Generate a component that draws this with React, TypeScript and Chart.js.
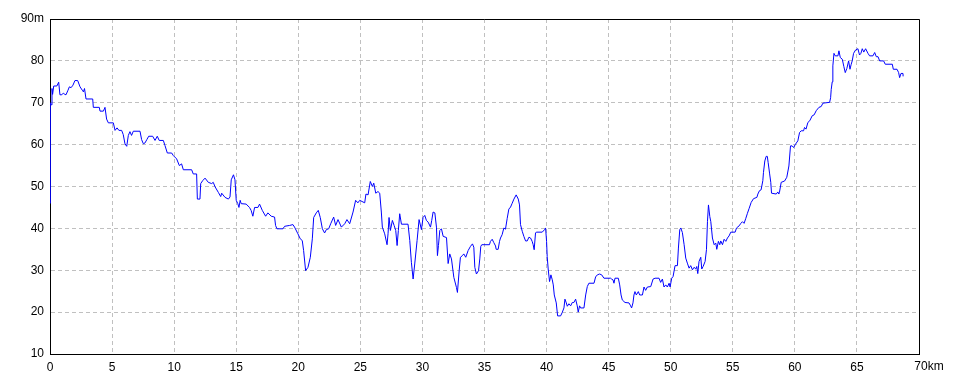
import React, { useEffect, useRef } from "react";
import { Chart, registerables } from "chart.js";

Chart.register(...registerables);

// Distance along the route (km)
const distanceKm = [
  0, 0.02, 0.04, 0.1, 0.16, 0.21, 0.3, 0.55, 0.7, 0.8,
  0.95, 1.07, 1.2, 1.29, 1.45, 1.56, 1.7, 1.85, 2.01, 2.23,
  2.42, 2.6, 2.69, 2.78, 2.9, 3.44, 3.49, 3.97, 4.03, 4.3,
  4.43, 4.56, 4.7, 5.1, 5.24, 5.4, 5.55, 5.77, 5.9, 6.04,
  6.18, 6.31, 6.44, 6.57, 6.71, 7.25, 7.38, 7.52, 7.65, 7.8,
  7.95, 8.27, 8.46, 8.64, 8.8, 9.13, 9.26, 9.45, 9.8, 9.93,
  10.2, 10.42, 10.6, 10.74, 11.41, 11.54, 11.81, 11.87, 12.08, 12.14,
  12.3, 12.49, 12.75, 13.02, 13.15, 13.3, 13.56, 13.75, 13.83, 14.1,
  14.37, 14.5, 14.6, 14.78, 14.9, 15, 15.13, 15.22, 15.32, 15.4,
  15.8, 16.07, 16.2, 16.34, 16.48, 16.75, 16.88, 17.1, 17.37, 17.55,
  17.82, 18.09, 18.17, 18.28, 18.76, 18.9, 19.3, 19.57, 19.7, 19.97,
  20.16, 20.32, 20.43, 20.59, 20.78, 20.97, 21.13, 21.24, 21.45, 21.61,
  21.77, 21.94, 22.12, 22.26, 22.45, 22.61, 22.85, 23.01, 23.2, 23.47,
  23.74, 23.92, 24.14, 24.41, 24.62, 24.8, 24.95, 25.35, 25.45, 25.62,
  25.8, 25.97, 26.08, 26.24, 26.42, 26.56, 26.69, 26.77, 26.96, 27.15,
  27.23, 27.31, 27.42, 27.58, 27.72, 27.85, 27.96, 28.06, 28.17, 28.31,
  28.84, 28.98, 29.11, 29.25, 29.38, 29.57, 29.73, 29.92, 30.05, 30.19,
  30.32, 30.46, 30.65, 30.75, 30.86, 31, 31.13, 31.21, 31.29, 31.4,
  31.53, 31.67, 31.94, 32.07, 32.2, 32.34, 32.53, 32.74, 32.82, 32.96,
  33.06, 33.22, 33.33, 33.49, 33.68, 33.87, 34.03, 34.14, 34.22, 34.35,
  34.52, 34.62, 34.7, 34.78, 35.4, 35.48, 35.62, 35.75, 35.89, 35.94,
  36.1, 36.21, 36.29, 36.42, 36.56, 36.69, 36.83, 36.96, 37.1, 37.23,
  37.37, 37.55, 37.72, 37.82, 37.9, 38.04, 38.17, 38.31, 38.44, 38.58,
  38.71, 38.84, 38.92, 39, 39.11, 39.17, 39.65, 39.87, 39.92, 40,
  40.05, 40.13, 40.24, 40.35, 40.46, 40.54, 40.62, 40.78, 40.89, 41.13,
  41.26, 41.4, 41.48, 41.59, 41.67, 41.8, 41.94, 42.07, 42.2, 42.34,
  42.47, 42.55, 42.66, 42.74, 43.01, 43.15, 43.28, 43.41, 43.82, 43.95,
  44.09, 44.27, 44.44, 44.62, 45.16, 45.24, 45.35, 45.43, 45.51, 45.78,
  45.89, 46, 46.1, 46.32, 46.64, 46.77, 46.85, 46.96, 47.04, 47.12,
  47.23, 47.39, 47.5, 47.72, 47.85, 47.98, 48.12, 48.39, 48.58, 48.74,
  49.06, 49.19, 49.33, 49.46, 49.6, 49.73, 49.87, 49.95, 50.08, 50.19,
  50.35, 50.54, 50.62, 50.73, 50.81, 50.94, 51.08, 51.21, 51.34, 51.48,
  51.61, 51.75, 51.88, 52.02, 52.1, 52.18, 52.28, 52.42, 52.5, 52.61,
  52.77, 52.88, 52.96, 53.04, 53.15, 53.23, 53.36, 53.5, 53.63, 53.71,
  53.84, 53.95, 54.03, 54.17, 54.3, 54.44, 54.57, 54.7, 54.84, 55.19,
  55.3, 55.51, 55.65, 55.78, 55.91, 56.05, 56.18, 56.32, 56.48, 56.67,
  56.94, 57.02, 57.15, 57.28, 57.42, 57.47, 57.58, 57.69, 57.78, 57.85,
  57.96, 58.06, 58.12, 58.5, 58.63, 58.71, 58.76, 58.9, 59.17, 59.35,
  59.52, 59.65, 59.78, 59.9, 60.05, 60.24, 60.38, 60.51, 60.7, 60.78,
  60.9, 61.05, 61.2, 61.4, 61.55, 61.72, 61.94, 62.12, 62.26, 62.8,
  62.88, 62.93, 63.01, 63.06, 63.15, 63.25, 63.47, 63.55, 63.66, 63.82,
  63.95, 64.06, 64.19, 64.33, 64.44, 64.54, 64.62, 64.73, 64.89, 65.08,
  65.21, 65.32, 65.43, 65.55, 65.7, 65.89, 66.02, 66.29, 66.43, 66.56,
  66.7, 66.83, 67.15, 67.28, 67.85, 67.93, 68.23, 68.36, 68.44, 68.55,
  68.71, 68.72,
];

// Elevation (m)
const elevationM = [
  46, 56, 70, 69.5, 73.4, 72, 74, 74, 74.9, 71.9,
  71.9, 72.3, 72, 71.9, 73, 73.8, 73.6, 74.2, 75.3, 75.3,
  73.8, 73, 72.6, 73.4, 70.9, 70.9, 68.9, 68.9, 68, 68,
  68.9, 66.1, 65.2, 65.2, 63.4, 64, 63.4, 63.4, 62.4, 60.2,
  59.6, 62.2, 63.1, 62.2, 63.2, 63.2, 61.2, 60.2, 60.4, 61.2,
  62, 62, 61, 62, 61, 61, 59.8, 58, 58, 57.4,
  56.6, 55, 55.4, 54, 54, 53, 53, 47, 47, 50.7,
  51.4, 52, 51, 50.7, 51, 49.9, 48.6, 47.6, 48.4, 47.4,
  47, 47.5, 51.6, 52.8, 51.6, 46.7, 45.9, 45, 46.7, 45.9,
  45.8, 45, 44.3, 42.9, 45, 45, 45.8, 44.3, 42.9, 43.7,
  42.9, 42.7, 40.7, 39.9, 39.9, 40.5, 40.7, 40.9, 40.3, 38.7,
  37.5, 37.1, 34.7, 29.9, 30.7, 33.1, 37.5, 42.6, 43.7, 44.3,
  42.6, 39.9, 38.9, 39.7, 39.9, 41.1, 42.7, 40.7, 42.1, 40.3,
  41.1, 42.1, 41.1, 43.9, 46.7, 46.1, 46.7, 46.1, 48.2, 48,
  51.2, 50, 50.8, 48.4, 48.8, 48.4, 43.9, 40.3, 38.7, 36.1,
  38.7, 42.6, 39.5, 41.9, 40.7, 39.5, 35.9, 39.5, 43.5, 41,
  41, 37.1, 31.9, 27.9, 31.5, 37.1, 42.1, 39.7, 42.6, 43.1,
  41.9, 41.5, 40.3, 41.9, 43.9, 43.7, 40.3, 33.5, 35.9, 39.5,
  39.9, 38.1, 37.8, 31.6, 33.9, 32.7, 28.3, 25.9, 24.7, 29.9,
  33.1, 33.5, 33.9, 33.1, 34.7, 35.7, 36.3, 35.5, 30.7, 29.1,
  29.9, 32.7, 35.7, 36.1, 36.1, 36.9, 37.4, 36.6, 35.8, 35,
  35, 36.9, 37.7, 38.5, 40.1, 39.8, 42.4, 44.6, 45.1, 46,
  47, 48, 47, 45.6, 40.9, 39.3, 38.1, 37, 37, 37.9,
  37.7, 36.9, 36.1, 34.9, 38.9, 39.1, 39.1, 39.8, 40.1, 36.9,
  33.3, 30.3, 27.3, 28.9, 27.7, 26.5, 24.1, 22.2, 19.1, 19.1,
  19.9, 21, 23.1, 22.2, 21.4, 22, 21.5, 22.3, 22.3, 23.1,
  21.5, 20, 21.5, 21, 21, 24.1, 26.1, 26.9, 26.9, 28.4,
  28.9, 29.1, 28.9, 28.1, 28.1, 27.9, 27.7, 26.9, 28.1, 28.1,
  26.5, 24.1, 22.9, 22.3, 22.2, 21.5, 21, 22.2, 24.1, 24.9,
  24.1, 24.9, 24.1, 24.1, 26, 25.2, 26, 26.1, 27.9, 28.1,
  28.1, 27.1, 27.9, 26, 26.5, 26, 26.9, 26, 28.1, 28.5,
  31.1, 31.1, 35.3, 39.7, 40.1, 39, 36.1, 32.9, 31.7, 30.5,
  31.1, 30.1, 30.7, 30.3, 30.9, 29.2, 32.1, 33.1, 30.3, 30.9,
  32.1, 34.9, 41.6, 45.6, 42.8, 41.6, 37.7, 36.1, 36.5, 35,
  36.9, 36.1, 37, 36.1, 37.4, 36.9, 37.7, 38.2, 39.1, 39.1,
  40.1, 40.6, 41.2, 41.6, 41.2, 42.4, 43.6, 44.8, 46.2, 47.1,
  47.4, 48.2, 49, 49.2, 51.4, 53.3, 56.1, 57.2, 57.2, 55.7,
  53.2, 51, 48.4, 48.2, 48.7, 48.2, 48.6, 51, 51.3, 52.2,
  54.9, 59.7, 59.7, 59.3, 60.1, 60.9, 62.9, 63.3, 63.3, 64.1,
  63.7, 65.3, 65.7, 66.9, 67.1, 68.1, 68.9, 69.1, 69.9, 70.1,
  71.2, 73.2, 75, 78.8, 81.8, 81.2, 81.2, 82.4, 80.8, 80.4,
  78.6, 77.2, 78.2, 80, 78, 79.2, 80, 81.8, 82.6, 82.9,
  81.4, 81.8, 82.9, 82.1, 82.9, 81.8, 81.2, 81.2, 82, 81,
  81, 80, 80, 79.2, 79.2, 78, 78, 77.2, 76, 77,
  77, 76.3,
];

const xMin = 0;
const xMax = 70;
const xStep = 5;
const yMin = 10;
const yMax = 90;
const yStep = 10;
const xUnit = "km";
const yUnit = "m";

const FONT = "'Liberation Sans', Arial, sans-serif";

export default function App() {
  const canvasRef = useRef<HTMLCanvasElement | null>(null);

  useEffect(() => {
    document.body.style.margin = "0";
    const canvas = canvasRef.current;
    if (!canvas) return;

    const points = distanceKm.map((x, i) => ({ x, y: elevationM[i] }));

    const framePlugin = {
      id: "frameAndUnits",
      afterDraw(chart: any) {
        const { ctx, chartArea } = chart;
        const { left, right, top, bottom } = chartArea;
        const t = Math.round(top) + 0.5;
        const r = Math.round(right) + 0.5;
        ctx.save();
        ctx.strokeStyle = "#000";
        ctx.lineWidth = 1;
        ctx.beginPath();
        ctx.moveTo(Math.round(left), t);
        ctx.lineTo(r, t);
        ctx.lineTo(r, Math.round(bottom) + 1);
        ctx.stroke();
        // last x label with unit
        const xs = chart.scales.x;
        const px = xs.getPixelForValue(xMax);
        ctx.font = `12px ${FONT}`;
        ctx.fillStyle = "#000";
        const w = ctx.measureText(String(xMax)).width;
        ctx.textAlign = "left";
        ctx.textBaseline = "middle";
        ctx.fillText(String(xMax) + xUnit, px - w / 2 + 2, bottom + 6 + 7);
        ctx.restore();
      },
    };

    const chart = new Chart(canvas, {
      type: "line",
      data: {
        datasets: [
          {
            data: points,
            borderColor: "#0000ff",
            borderWidth: 1,
            pointRadius: 0,
            tension: 0,
            fill: false,
          },
        ],
      },
      options: {
        responsive: false,
        animation: false,
        events: [],
        layout: { padding: { left: 0, top: 19, right: 41, bottom: 0 } },
        plugins: {
          legend: { display: false },
          tooltip: { enabled: false },
        },
        scales: {
          x: {
            type: "linear",
            min: xMin,
            max: xMax,
            afterFit(scale: any) {
              scale.height = 30;
            },
            ticks: {
              stepSize: xStep,
              padding: 6,
              color: "#000",
              font: { family: FONT, size: 12 },
              maxRotation: 0,
              autoSkip: false,
              callback: (v: any) => (Number(v) === xMax ? "" : String(v)),
            },
            grid: {
              color: "#c0c0c0",
              lineWidth: 1,
              drawTicks: false,
            },
            border: { display: true, color: "#000", width: 1, dash: [4, 3] },
          },
          y: {
            type: "linear",
            min: yMin,
            max: yMax,
            afterFit(scale: any) {
              scale.width = 50;
            },
            ticks: {
              stepSize: yStep,
              padding: 6,
              color: "#000",
              font: { family: FONT, size: 12 },
              autoSkip: false,
              callback: (v: any) => (Number(v) === yMax ? String(v) + yUnit : String(v)),
            },
            grid: {
              color: "#c0c0c0",
              lineWidth: 1,
              drawTicks: false,
            },
            border: { display: true, color: "#000", width: 1, dash: [4, 3] },
          },
        },
      },
      plugins: [framePlugin],
    });

    return () => chart.destroy();
  }, []);

  return (
    <div style={{ position: "absolute", left: 0, top: 0, width: 960, height: 384, background: "#fff" }}>
      <canvas ref={canvasRef} width={960} height={384} />
    </div>
  );
}
